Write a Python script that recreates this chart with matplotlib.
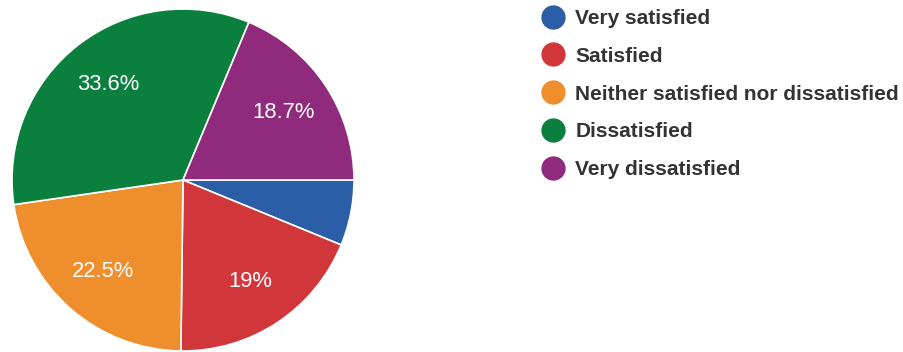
import matplotlib
matplotlib.use("Agg")
import matplotlib.pyplot as plt
from matplotlib.lines import Line2D
import numpy as np

categories = ["Very satisfied", "Satisfied", "Neither satisfied nor dissatisfied",
              "Dissatisfied", "Very dissatisfied"]
values = [6.2, 19.0, 22.5, 33.6, 18.7]
labels = ["", "19%", "22.5%", "33.6%", "18.7%"]
colors = ["#2b5ea6", "#d1373a", "#ee8e2c", "#0b803e", "#8f2a7c"]

plt.rcParams['font.family'] = ['Liberation Sans', 'DejaVu Sans']

W, H = 904, 352
fig = plt.figure(figsize=(W / 100, H / 100), dpi=100)
cx, cy, r = 183, 180, 171
ax = fig.add_axes([(cx - r) / W, (H - cy - r) / H, 2 * r / W, 2 * r / H])
wedges, _ = ax.pie(values, colors=colors, startangle=0, counterclock=False,
                   radius=1.0, wedgeprops=dict(edgecolor="white", linewidth=1.2))
for w, lab in zip(wedges, labels):
    if not lab:
        continue
    ang = np.deg2rad((w.theta1 + w.theta2) / 2)
    d = 0.71
    ax.text(d * np.cos(ang), d * np.sin(ang), lab, ha="center", va="center",
            color="white", fontsize=15.8)
ax.set_xlim(-1, 1)
ax.set_ylim(-1, 1)
ax.axis("off")

handles = [Line2D([0], [0], marker="o", linestyle="none", markersize=16.5,
                  markerfacecolor=c, markeredgecolor=c) for c in colors]
leg = fig.legend(handles, categories, loc="upper left",
                 bbox_to_anchor=(540 / W, 1 - 9 / H), frameon=False,
                 prop=dict(size=15, weight="bold"), labelcolor="#333333",
                 handlelength=1.2, handletextpad=0.5, labelspacing=0.9,
                 borderpad=0, borderaxespad=0)

fig.savefig("out.png", dpi=100, facecolor="white")
